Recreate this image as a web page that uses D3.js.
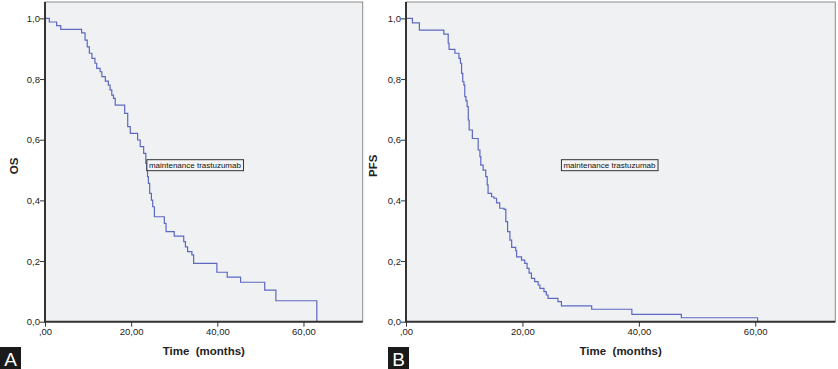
<!DOCTYPE html>
<html><head><meta charset="utf-8">
<script src="https://cdn.jsdelivr.net/npm/d3@7"></script>
<style>
body{margin:0;background:#fff;}
svg{display:block;font-family:"Liberation Sans",Arial,sans-serif;}
</style></head>
<body><svg id="c" width="838" height="369"></svg>
<script>
// OS (panel A): [time in months, survival after the drop]
const osSteps = [[1.0,0.988],[2.7,0.976],[3.65,0.964],[8.5,0.952],[9.3,0.928],[9.8,0.906],[10.3,0.885],[10.9,0.868],[11.6,0.852],[12.0,0.835],[12.8,0.824],[13.2,0.808],[14.0,0.793],[14.7,0.780],[15.1,0.764],[15.5,0.747],[15.9,0.736],[16.3,0.714],[18.5,0.687],[19.2,0.643],[19.8,0.621],[21.5,0.599],[22.1,0.577],[22.9,0.555],[23.4,0.522],[23.6,0.500],[23.8,0.478],[24.0,0.456],[24.3,0.423],[24.7,0.401],[25.0,0.379],[25.4,0.346],[27.7,0.324],[28.1,0.297],[30.0,0.282],[32.2,0.264],[32.6,0.247],[33.1,0.231],[34.1,0.220],[34.5,0.192],[39.9,0.163],[42.3,0.147],[45.4,0.130],[51.0,0.104],[53.6,0.069],[63.1,0.0]];
// PFS (panel B)
const pfsSteps = [[1.1,0.985],[2.3,0.961],[6.5,0.948],[7.25,0.918],[7.4,0.898],[8.4,0.885],[9.1,0.868],[9.35,0.852],[9.55,0.819],[9.75,0.791],[9.95,0.780],[10.1,0.742],[10.3,0.728],[10.5,0.709],[10.7,0.665],[10.85,0.632],[11.4,0.604],[12.4,0.566],[12.7,0.544],[12.85,0.516],[13.25,0.500],[13.7,0.478],[13.95,0.451],[14.1,0.423],[14.7,0.412],[15.1,0.407],[15.55,0.392],[16.1,0.374],[16.85,0.370],[17.15,0.330],[17.45,0.297],[17.85,0.269],[18.15,0.245],[18.85,0.234],[19.0,0.214],[19.85,0.203],[20.4,0.192],[20.8,0.176],[21.15,0.160],[21.55,0.143],[22.1,0.132],[22.7,0.121],[23.0,0.110],[23.7,0.099],[24.1,0.088],[24.4,0.077],[26.1,0.066],[26.7,0.052],[31.9,0.041],[38.8,0.024],[47.3,0.013],[60.4,0.0]];
const yTicks = [0,0.2,0.4,0.6,0.8,1.0];
const xTicks = [0,20,40,60];
const groupLabel = "maintenance trastuzumab";
const xTitle = "Time  (months)";
const panels = [
  {letter:"A", yTitle:"OS", steps:osSteps, left:45, right:362.7, titleX:14, letterX:0, labelT:23.65},
  {letter:"B", yTitle:"PFS", steps:pfsSteps, left:406, right:835.3, titleX:373, letterX:388, labelT:26.7}
];

const svg = d3.select("#c");
const plotTop = 2, plotBottom = 321.7;
const fmtY = v => d3.format(".1f")(v).replace(".", ",");
const fmtX = v => v === 0 ? ",00" : d3.format(".2f")(v).replace(".", ",");

panels.forEach(p => {
  const x = d3.scaleLinear().domain([0, 73.75]).range([p.left, p.right]);
  const y = d3.scaleLinear().domain([0, 1.054]).range([plotBottom, plotTop]);
  const g = svg.append("g");
  g.append("rect").attr("x", p.left).attr("y", plotTop).attr("width", p.right - p.left).attr("height", plotBottom - plotTop)
    .attr("fill", "#f0f1f2").attr("stroke", "#8a8a8a").attr("stroke-width", 1);

  // curve
  const pts = [[0, 1]];
  p.steps.forEach(([t, s]) => { pts.push([t, pts[pts.length-1][1]]); pts.push([t, s]); });
  const line = d3.line().x(d => x(d[0])).y(d => y(d[1]));
  g.append("path").attr("d", line(pts)).attr("fill", "none").attr("stroke", "#5c68c2").attr("stroke-width", 1.2);

  // axes
  const ya = g.append("g").attr("transform", `translate(${p.left},0)`)
    .call(d3.axisLeft(y).tickValues(yTicks).tickFormat(fmtY).tickSize(5).tickSizeOuter(0));
  const xa = g.append("g").attr("transform", `translate(0,${plotBottom})`)
    .call(d3.axisBottom(x).tickValues(xTicks).tickFormat(fmtX).tickSize(5).tickSizeOuter(0));
  [ya, xa].forEach(a => {
    a.select(".domain").remove();
    a.selectAll(".tick line").attr("stroke", "#333").attr("stroke-width", 1);
    a.selectAll("text").attr("fill", "#222").attr("font-size", 9.5).attr("font-family", "Liberation Sans, Arial, sans-serif");
  });
  ya.selectAll("text").attr("x", -5);
  xa.selectAll("text").attr("y", 7);
  g.append("line").attr("x1", p.left).attr("x2", p.left).attr("y1", plotTop).attr("y2", plotBottom + 1)
    .attr("stroke", "#333").attr("stroke-width", 2);
  g.append("line").attr("x1", p.left - 1).attr("x2", p.right).attr("y1", plotBottom).attr("y2", plotBottom)
    .attr("stroke", "#333").attr("stroke-width", 2);

  // titles
  g.append("text").attr("transform", `translate(${p.titleX},${(plotTop + plotBottom) / 2 + 4}) rotate(-90)`)
    .attr("text-anchor", "middle").attr("dominant-baseline", "central")
    .attr("font-weight", "bold").attr("font-size", 11.5).attr("fill", "#222").text(p.yTitle);
  g.append("text").attr("x", p.left + (p.right - p.left) * 0.5).attr("y", 355)
    .attr("text-anchor", "middle").attr("font-weight", "bold").attr("font-size", 11.5).attr("fill", "#222")
    .style("white-space", "pre").text(xTitle);

  // label box
  const lx = x(p.labelT), ly = y(0.516);
  const lr = g.append("rect");
  const lt = g.append("text").attr("x", lx + 2).attr("y", ly + 3).attr("font-size", 8).attr("fill", "#111").text(groupLabel);
  const bb = lt.node().getBBox();
  lr.attr("x", lx).attr("y", ly - 5.5).attr("width", bb.width + 4).attr("height", 11)
    .attr("fill", "#f4f4f4").attr("stroke", "#333").attr("stroke-width", 1);

  // panel letter
  g.append("rect").attr("x", p.letterX).attr("y", 347).attr("width", 21).attr("height", 22).attr("fill", "#1a1a1a");
  g.append("text").attr("x", p.letterX + 10.5).attr("y", 366).attr("text-anchor", "middle")
    .attr("font-size", 19).attr("fill", "#fff").text(p.letter);
});
</script></body></html>
